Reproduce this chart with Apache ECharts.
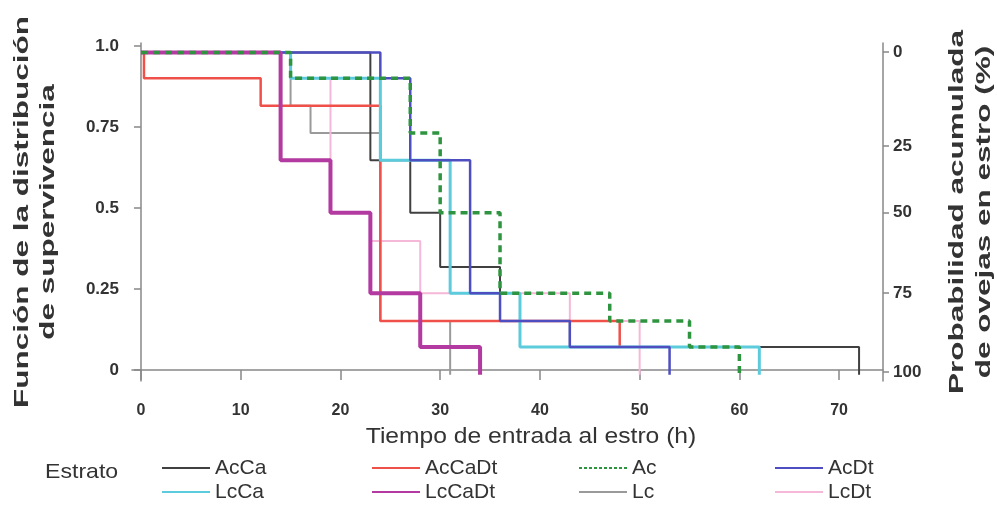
<!DOCTYPE html>
<html lang="es">
<head>
    <meta charset="UTF-8">
    <title>Función de supervivencia - entrada al estro</title>
    <script src="https://cdn.jsdelivr.net/npm/echarts@6.0.0/dist/echarts.min.js"></script>
    <style>
        html, body { margin: 0; padding: 0; background: #fff; }
    </style>
</head>
<body>
    <div id="main" style="width: 997px; height: 508px;"></div>
    <script>
        // curvas de supervivencia: [tiempo (h), supervivencia] (escalón al final)
        var acCa   = [[0, 0.98], [23, 0.647], [27, 0.485], [30, 0.318], [36, 0.151], [43, 0.071], [72, -0.015]];
        var lcCa   = [[0, 0.98], [15, 0.90], [24, 0.647], [31, 0.237], [38, 0.071], [62, -0.015]];
        var acCaDt = [[0, 0.98], [0.3, 0.90], [12, 0.815], [24, 0.151], [48, 0.071]];
        var lcCaDt = [[0, 0.98], [14, 0.647], [19, 0.485], [23, 0.237], [28, 0.071], [34, -0.015]];
        var ac     = [[0, 0.98], [15, 0.90], [27, 0.731], [30, 0.485], [36, 0.237], [47, 0.151], [55, 0.071], [60, -0.015]];
        var lc     = [[0, 0.98], [15, 0.815], [17, 0.731], [24, 0.151], [31, -0.015]];
        var acDt   = [[0, 0.98], [24, 0.90], [27, 0.647], [33, 0.237], [36, 0.151], [43, 0.071], [53, -0.015]];
        var lcDt   = [[0, 0.98], [15, 0.90], [19, 0.485], [23, 0.398], [28, 0.237], [43, 0.151], [50, -0.015]];

        // ejes
        var xTicks = [0, 10, 20, 30, 40, 50, 60, 70];
        var yTicks = [0, 0.25, 0.5, 0.75, 1];
        var yTickLabels = ['0', '0.25', '0.5', '0.75', '1.0'];
        var rightTickPos = [0.981, 0.691, 0.485, 0.238, -0.006];
        var rightTickLabels = ['0', '25', '50', '75', '100'];

        var FONT = 'Liberation Sans, Arial, sans-serif';

        var chart = echarts.init(document.getElementById('main'));

        function stepLine(name, data, color, width, dash) {
            return {
                name: name,
                type: 'line',
                step: 'end',
                data: data,
                symbol: 'none',
                lineStyle: { color: color, width: width, type: dash || 'solid' },
                itemStyle: { color: color }
            };
        }

        function legendCol(left, names) {
            return {
                orient: 'vertical',
                left: left,
                top: 457,
                height: 50,
                padding: 0,
                itemWidth: 48,
                itemHeight: 14,
                itemGap: 2,
                data: names,
                itemStyle: { opacity: 0 },
                textStyle: { color: '#333', fontSize: 21, lineHeight: 22, fontFamily: FONT },
                selectedMode: false
            };
        }

        var option = {
            animation: false,
            backgroundColor: '#fff',
            grid: { left: 132, right: 114, top: 43, bottom: 127 },
            xAxis: {
                type: 'value',
                min: -0.9,
                max: 74.4,
                axisLine: { lineStyle: { color: '#888', width: 1.5 } },
                axisTick: { show: true, length: 10, customValues: xTicks, lineStyle: { color: '#888', width: 1.5 } },
                axisLabel: { customValues: xTicks, margin: 22, color: '#333', fontSize: 16, fontWeight: 'bold', fontFamily: FONT },
                splitLine: { show: false }
            },
            yAxis: [{
                type: 'value',
                position: 'left',
                min: -0.034,
                max: 1.009,
                axisLine: { show: true, lineStyle: { color: '#888', width: 1.5 } },
                axisTick: { show: true, length: 7, customValues: yTicks, lineStyle: { color: '#888', width: 1.5 } },
                axisLabel: {
                    customValues: yTicks, margin: 13, color: '#333', fontSize: 17, fontWeight: 'bold', fontFamily: FONT,
                    formatter: function (v) { return yTickLabels[yTicks.indexOf(v)]; }
                },
                splitLine: { show: false }
            }, {
                type: 'value',
                position: 'right',
                min: -0.034,
                max: 1.009,
                axisLine: { show: true, lineStyle: { color: '#888', width: 1.5 } },
                axisTick: { show: true, length: 6, customValues: rightTickPos, lineStyle: { color: '#888', width: 1.5 } },
                axisLabel: {
                    customValues: rightTickPos, margin: 10, color: '#333', fontSize: 17, fontWeight: 'bold', fontFamily: FONT,
                    formatter: function (v) { return rightTickLabels[rightTickPos.indexOf(v)]; }
                },
                splitLine: { show: false }
            }],
            legend: [
                legendCol(161, ['AcCa', 'LcCa']),
                legendCol(371, ['AcCaDt', 'LcCaDt']),
                legendCol(578, [{ name: 'Ac', lineStyle: { type: [3, 2], width: 2 } }, 'Lc']),
                legendCol(774, ['AcDt', 'LcDt'])
            ],
            graphic: [
                {
                    type: 'text', x: 35, y: 212, rotation: Math.PI / 2, scaleX: 1.5,
                    style: { text: 'Función de la distribución\nde supervivencia', font: 'bold 21px ' + FONT,
                             fill: '#333', align: 'center', verticalAlign: 'middle', lineHeight: 26 }
                },
                {
                    type: 'text', x: 971, y: 212, rotation: Math.PI / 2, scaleX: 1.5,
                    style: { text: 'Probabilidad acumulada\nde ovejas en estro (%)', font: 'bold 21px ' + FONT,
                             fill: '#333', align: 'center', verticalAlign: 'middle', lineHeight: 27 }
                },
                {
                    type: 'text', x: 531, y: 437, scaleX: 1.12,
                    style: { text: 'Tiempo de entrada al estro (h)', font: '22px ' + FONT,
                             fill: '#333', align: 'center', verticalAlign: 'middle' }
                },
                {
                    type: 'text', x: 45, y: 472, scaleX: 1.1,
                    style: { text: 'Estrato', font: '21px ' + FONT,
                             fill: '#333', align: 'left', verticalAlign: 'middle' }
                }
            ],
            series: [
                stepLine('Lc', lc, '#9a9a9a', 2),
                stepLine('AcCa', acCa, '#404040', 2),
                stepLine('LcDt', lcDt, '#f5b8d8', 2),
                stepLine('AcCaDt', acCaDt, '#f0504a', 2.5),
                stepLine('LcCa', lcCa, '#5ccbdc', 3),
                stepLine('AcDt', acDt, '#4e4ec0', 2.5),
                stepLine('LcCaDt', lcCaDt, '#b23aa0', 4),
                stepLine('Ac', ac, '#2e9440', 3.5, [7, 5])
            ]
        };

        chart.setOption(option);
    </script>
</body>
</html>
